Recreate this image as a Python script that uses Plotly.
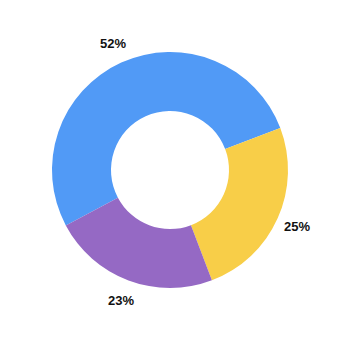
import math
import plotly.graph_objects as go

labels = ["A", "B", "C"]
values = [52, 25, 23]
colors = ["#519AF6", "#F8CE48", "#9569C4"]

ROTATION = 242
fig = go.Figure(go.Pie(
    labels=labels,
    values=values,
    hole=0.5,
    sort=False,
    direction="clockwise",
    rotation=ROTATION,
    marker=dict(colors=colors, line=dict(color="white", width=0)),
    textinfo="none",
    showlegend=False,
    hoverinfo="skip",
))

# percentage labels placed outside, along each slice's mid-angle
total = sum(values)
plot_px = 236
label_r = 139 / plot_px
start = 90 - ROTATION
cum = 0
annotations = []
for v in values:
    mid = math.radians(start - 360 * (cum + v / 2) / total)
    cum += v
    annotations.append(dict(
        x=0.5 + label_r * math.cos(mid), y=0.5 + label_r * math.sin(mid),
        xref="paper", yref="paper", showarrow=False,
        text=f"{round(100 * v / total)}%",
        font=dict(family="Liberation Sans, Arial, sans-serif", size=13, color="#111111", weight="bold"),
        xanchor="center", yanchor="middle",
    ))

fig.update_layout(
    width=340, height=340,
    margin=dict(l=52, r=52, t=52, b=52),
    paper_bgcolor="white",
    plot_bgcolor="white",
    annotations=annotations,
)
fig.write_html("out.html")
